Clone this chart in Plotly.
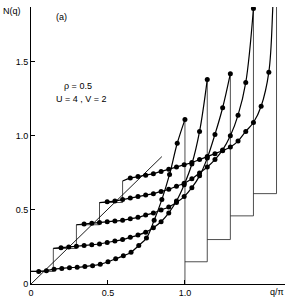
import plotly.graph_objects as go

# relative q/pi grid along each curve
q_rel = [0.0, 0.05, 0.10, 0.15, 0.20, 0.25, 0.30, 0.35, 0.40, 0.45, 0.50,
         0.55, 0.60, 0.65, 0.70, 0.75, 0.80, 0.85, 0.90, 0.95, 1.0]

# horizontal shift (q/pi) and vertical baseline of each curve
shifts = [0.0, 0.145, 0.295, 0.445, 0.595]
offsets = [0.0, 0.15, 0.30, 0.46, 0.61]

N1 = [0.085, 0.085, 0.09, 0.10, 0.105, 0.11, 0.113, 0.118, 0.124, 0.133, 0.15,
      0.17, 0.19, 0.215, 0.26, 0.31, 0.43, 0.57, 0.74, 0.95, 1.11]
N2 = [0.24, 0.245, 0.25, 0.255, 0.26, 0.265, 0.27, 0.28, 0.29, 0.30, 0.315,
      0.33, 0.35, 0.38, 0.42, 0.48, 0.56, 0.67, 0.81, 1.03, 1.38]
N3 = [0.40, 0.405, 0.41, 0.415, 0.42, 0.425, 0.43, 0.44, 0.45, 0.465, 0.48,
      0.50, 0.52, 0.55, 0.59, 0.65, 0.73, 0.85, 1.01, 1.19, 1.42]
N4 = [0.55, 0.555, 0.56, 0.57, 0.58, 0.59, 0.60, 0.61, 0.625, 0.64, 0.66,
      0.68, 0.71, 0.75, 0.79, 0.84, 0.905, 1.00, 1.14, 1.36, 1.86]
N5 = [0.695, 0.715, 0.725, 0.735, 0.745, 0.76, 0.775, 0.79, 0.805, 0.82, 0.84,
      0.86, 0.88, 0.90, 0.925, 0.965, 1.03, 1.09, 1.20, 1.43]
# divergent tail of the last curve (line only)
tail_q_rel = [0.975, 0.99]
tail_N5 = [1.85, 2.4]

diag_q = [0.0, 0.85]
diag_N = [0.0, 0.86]

curves = [N1, N2, N3, N4, N5]

fig = go.Figure()
line_style = dict(color="black", width=1.2)
thin = dict(color="#222", width=0.8)

# left staircase
lx, ly = [], []
for k in range(len(curves)):
    s = shifts[k]
    lvl = curves[k][0]
    if k < len(curves) - 1:
        nxt = shifts[k + 1]
        lx += [s, nxt]
        ly += [lvl, lvl]
    else:
        lx += [s]
        ly += [lvl]
fig.add_trace(go.Scatter(x=lx, y=ly, mode="lines", line=thin, hoverinfo="skip"))

# right staircase (drops after the peaks)
rx, ry = [], []
for k in range(len(curves)):
    end = shifts[k] + 1.0
    top = curves[k][-1] if k < len(curves) - 1 else 2.5
    if k == 0:
        rx += [end, end, None]
        ry += [offsets[k], top, None]
    else:
        prev_end = shifts[k - 1] + 1.0
        rx += [prev_end, end, end, None]
        ry += [offsets[k], offsets[k], top, None]
fig.add_trace(go.Scatter(x=rx, y=ry, mode="lines", line=thin, hoverinfo="skip"))

# diagonal
fig.add_trace(go.Scatter(x=diag_q, y=diag_N, mode="lines", line=dict(color="black", width=0.9)))

for k, N in enumerate(curves):
    s = shifts[k]
    xs = [s + t for t in q_rel[:len(N)]]
    ys = list(N)
    if k == len(curves) - 1:
        xl = xs + [s + t for t in tail_q_rel]
        yl = ys + tail_N5
    else:
        xl, yl = xs, ys
    fig.add_trace(go.Scatter(x=xl, y=yl, mode="lines", line=line_style,
                             line_shape="spline", hoverinfo="skip"))
    fig.add_trace(go.Scatter(x=xs[1:], y=ys[1:], mode="markers",
                             marker=dict(color="black", size=5), hoverinfo="skip"))

font = dict(family="Liberation Sans, Arial, sans-serif", size=9, color="black")

fig.update_layout(
    width=299, height=302,
    margin=dict(l=31, r=14, t=7, b=18),
    paper_bgcolor="white", plot_bgcolor="white",
    showlegend=False,
    font=font,
    xaxis=dict(range=[0, 1.65], showgrid=False, zeroline=False, automargin=False,
               showline=True, linecolor="black", linewidth=1,
               ticks="inside", ticklen=4, tickcolor="black",
               tickvals=[0, 0.5, 1.0], ticktext=["0", "0.5", "1.0"],
               tickfont=font, ticklabelstandoff=0),
    yaxis=dict(range=[0, 1.87], showgrid=False, zeroline=False, automargin=False,
               showline=True, linecolor="black", linewidth=1,
               ticks="inside", ticklen=4, tickcolor="black",
               tickvals=[0, 0.5, 1.0, 1.5], ticktext=["0", "0.5", "1.0", "1.5"],
               tickfont=font),
    annotations=[
        dict(x=0.2, y=1.80, xref="x", yref="y", text="(a)", showarrow=False, font=font,
             xanchor="center", yanchor="middle"),
        dict(x=0.305, y=1.338, xref="x", yref="y", text="ρ = 0.5", showarrow=False, font=font,
             xanchor="center", yanchor="middle"),
        dict(x=0.33, y=1.25, xref="x", yref="y", text="U = 4 , V = 2", showarrow=False, font=font,
             xanchor="center", yanchor="middle"),
        dict(x=-0.075, y=1.84, xref="paper", yref="y", text="N(q)", showarrow=False, font=font,
             xanchor="center", yanchor="middle"),
        dict(x=1.60, y=-0.03, xref="x", yref="paper", text="q/π", showarrow=False, font=font,
             xanchor="center", yanchor="middle"),
    ],
)

fig.write_html("out.html", config={"displayModeBar": False},
               post_script="document.body.style.margin='0';document.body.style.overflow='hidden';")
